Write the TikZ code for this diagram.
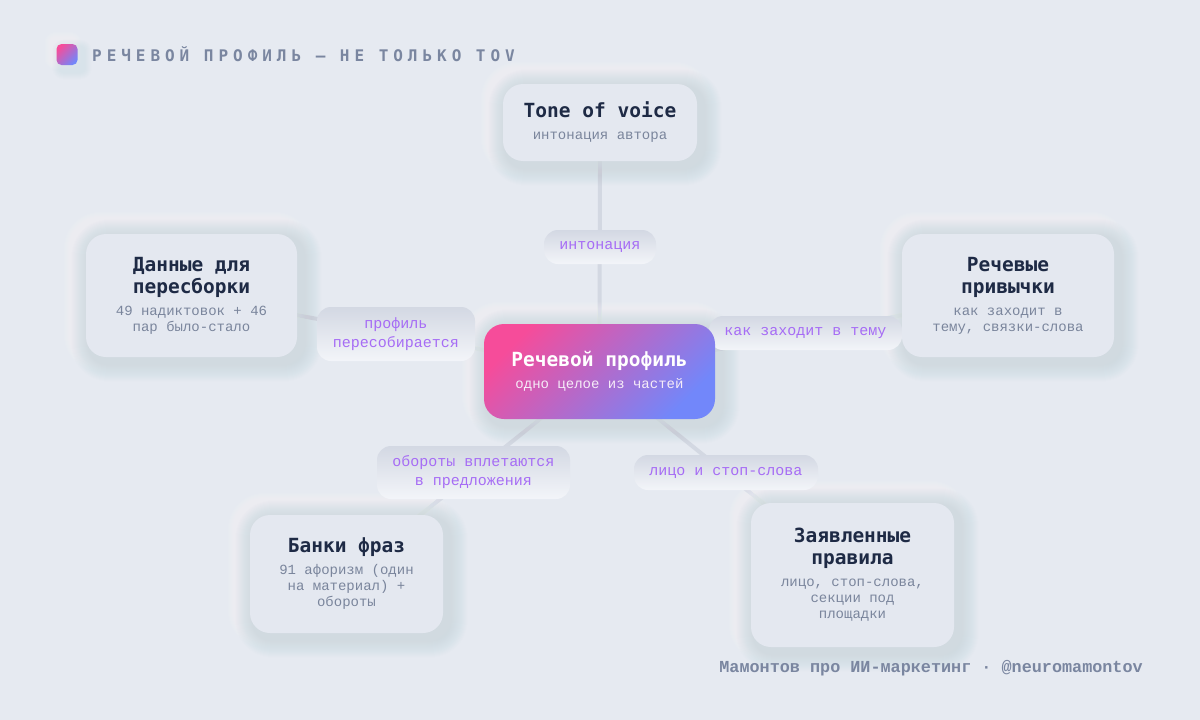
\documentclass[tikz,border=0pt]{standalone}
\usepackage{fontspec}
\setmainfont{Liberation Mono}
\newfontfamily\monof{Liberation Mono}
\newfontfamily\headf{DejaVu Sans Mono}
\newfontfamily\titlef[LetterSpace=31]{DejaVu Sans Mono}
\usetikzlibrary{calc}
\definecolor{bgc}{HTML}{E6EAF1}
\definecolor{boxc}{HTML}{E4E8F0}
\definecolor{headc}{HTML}{1E2A45}
\definecolor{subc}{HTML}{7A859C}
\definecolor{purp}{HTML}{A66CF5}
\definecolor{linec}{HTML}{D3D8E2}
\definecolor{pinkc}{HTML}{F64C9A}
\definecolor{bluec}{HTML}{7287FA}
\definecolor{shd}{HTML}{9AABC6}
\definecolor{greyt}{HTML}{7A86A0}
\definecolor{pilltop}{HTML}{D3D8E3}
\definecolor{pillbot}{HTML}{F3F5F9}
\definecolor{ctrsub}{HTML}{F6ECF8}
\pgfdeclarelayer{bgl}\pgfdeclarelayer{lines}\pgfdeclarelayer{shad}
\pgfsetlayers{bgl,lines,shad,main}
\newcommand\neushadow[3]{% node, radius, spread
  \foreach \i in {0,1,...,#3}{%
    \pgfmathsetmacro\rr{#2+\i}%
    \fill[white,opacity=0.05,rounded corners=\rr pt] ($(#1.south west)+(-6-\i,-2+\i)$) rectangle ($(#1.north east)+(-2+\i,-6-\i)$);
  }%
  \foreach \i in {0,1,...,#3}{%
    \pgfmathsetmacro\rr{#2+\i}%
    \fill[shd,opacity=0.015,rounded corners=\rr pt] ($(#1.south west)+(2-\i,8+\i)$) rectangle ($(#1.north east)+(8+\i,2-\i)$);
  }%
}
\newcommand\fixsp{\spaceskip=0.6em\xspaceskip=0.6em\relax}
\newcommand\hdt[1]{{\headf\bfseries\fontsize{19.5}{22}\selectfont\fixsp\color{headc}#1\par}}
\newcommand\sbt[1]{{\vspace{6pt}\monof\fontsize{14}{16}\selectfont\fixsp\color{subc}#1\par}}
\tikzset{
  card/.style={fill=boxc, rounded corners=20pt, align=center, inner sep=0pt},
  pill/.style={top color=pilltop, bottom color=pillbot, rounded corners=14pt, align=center, inner sep=0pt, text=purp, font=\monof\fontsize{15}{19}\selectfont},
  conn/.style={linec, line width=4pt},
  grad/.style={top color=pinkc, bottom color=bluec, shading angle=45},
}
\begin{document}
\begin{tikzpicture}[x=1pt,y=-1pt]
\useasboundingbox (0,0) rectangle (1200,720);
\begin{pgfonlayer}{bgl}
\fill[bgc] (0,0) rectangle (1200,720);
\end{pgfonlayer}
% header
\node[grad, rounded corners=5pt, minimum size=21pt, inner sep=0pt] (icon) at (67,54.5) {};
\node[anchor=base west, inner sep=0pt, text=greyt, font=\titlef\bfseries\fontsize{16}{18}\selectfont] (title) at (92,61) {РЕЧЕВОЙ ПРОФИЛЬ — НЕ ТОЛЬКО TOV};
% pills
\node[pill, minimum width=112pt, minimum height=34pt] (l1) at (600,247) {интонация};
\node[pill, minimum width=158pt, minimum height=54pt] (l2) at (396,334) {профиль\\пересобирается};
\node[pill, minimum width=193pt, minimum height=34pt] (l3) at (805.5,333) {как заходит в тему};
\node[pill, minimum width=193pt, minimum height=53pt] (l4) at (473.5,472.5) {обороты вплетаются\\в предложения};
\node[pill, minimum width=184pt, minimum height=35pt] (l5) at (726,472.5) {лицо и стоп-слова};
% cards
\node[card, minimum width=194pt, minimum height=77pt, text width=184pt] (tov) at (600,122.5) {\hdt{Tone of voice}\sbt{интонация автора}};
\node[card, minimum width=211pt, minimum height=123pt, text width=200pt] (data) at (191.5,295.5) {\hdt{Данные для\\пересборки}\sbt{49 надиктовок + 46\\пар было-стало}};
\node[card, minimum width=212pt, minimum height=123pt, text width=200pt] (habits) at (1008,295.5) {\hdt{Речевые\\привычки}\sbt{как заходит в\\тему, связки-слова}};
\node[card, minimum width=193pt, minimum height=118pt, text width=183pt] (banks) at (346.5,574) {\hdt{Банки фраз}\sbt{91 афоризм (один\\на материал) +\\обороты}};
\node[card, minimum width=203pt, minimum height=144pt, text width=193pt] (rules) at (852.5,575) {\hdt{Заявленные\\правила}\sbt{лицо, стоп-слова,\\секции под\\площадки}};
\node[grad, rounded corners=20pt, minimum width=231pt, minimum height=95pt, text width=221pt, align=center, inner sep=0pt] (ctr) at (599.5,371.5) {{\headf\bfseries\fontsize{19.5}{22}\selectfont\fixsp\color{white}Речевой профиль\par}{\vspace{6pt}\monof\fontsize{14}{16}\selectfont\fixsp\color{ctrsub}одно целое из частей\par}};
% footer
\node[anchor=base east, inner sep=0pt, text=greyt, font=\monof\bfseries\fontsize{16.8}{19}\selectfont] (foot) at (1143,672) {Мамонтов про ИИ-маркетинг · @neuromamontov};
% shadows
\begin{pgfonlayer}{shad}
\neushadow{tov}{20}{16}
\neushadow{data}{20}{16}
\neushadow{habits}{20}{16}
\neushadow{banks}{20}{16}
\neushadow{rules}{20}{16}
\neushadow{ctr}{20}{16}
\neushadow{icon}{5}{6}
\end{pgfonlayer}
% connectors
\begin{pgfonlayer}{lines}
\draw[conn] (ctr.center) -- (tov.center);
\draw[conn] (ctr.center) -- (data.center);
\draw[conn] (ctr.center) -- (habits.center);
\draw[conn] (ctr.center) -- (banks.center);
\draw[conn] (ctr.center) -- (rules.center);
\end{pgfonlayer}
\end{tikzpicture}
\end{document}
